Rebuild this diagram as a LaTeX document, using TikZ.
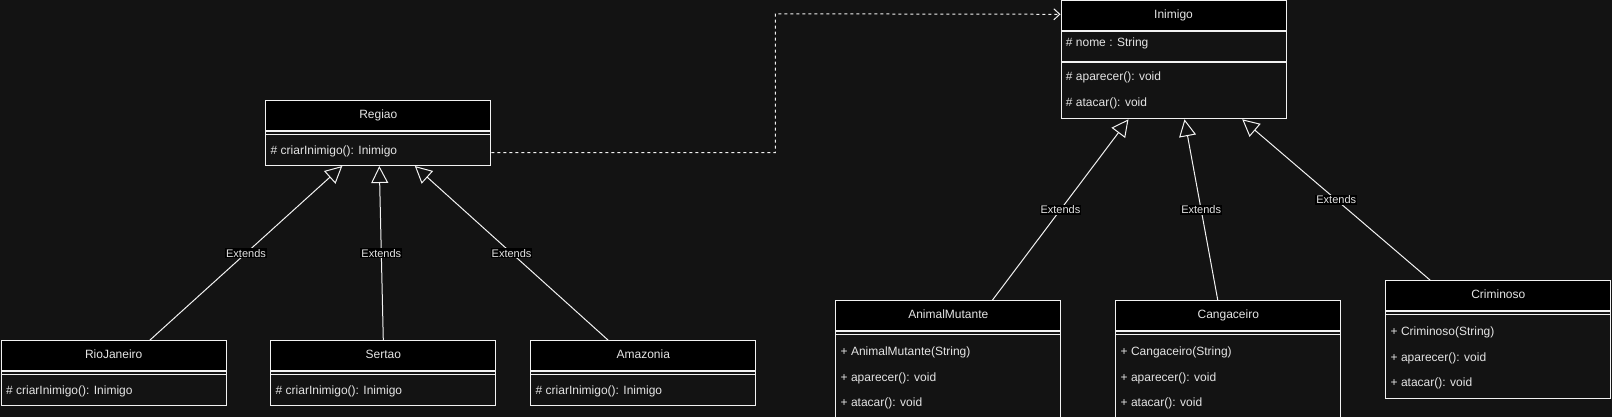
\documentclass[tikz,border=0pt]{standalone}
\usepackage{fontspec}
\setmainfont{Liberation Sans}
\usepackage{xcolor}
\usepackage{tikz}
\usetikzlibrary{arrows.meta,positioning}

\definecolor{bgc}{HTML}{131313}
\definecolor{edgec}{HTML}{F2F2F2}
\definecolor{txtc}{HTML}{E4E4E4}

\begin{document}
\begin{tikzpicture}[
  x=1pt, y=-1pt,
  font=\fontsize{12}{14}\selectfont,
  classhead/.style={draw=edgec, fill=black, text=txtc, anchor=north west,
                    minimum width=225pt, minimum height=30pt, inner sep=0pt, line width=1pt,
                    text height=9pt, text depth=3pt},
  classbody/.style={draw=edgec, fill=bgc, anchor=north west,
                    minimum width=225pt, inner sep=0pt, line width=1pt},
  member/.style={anchor=base west, text=txtc, inner sep=0pt},
  sep/.style={draw=edgec, line width=1pt},
  lbl/.style={fill=black, text=txtc, inner sep=1pt, font=\fontsize{11}{13}\selectfont},
  ext/.style={draw=edgec, line width=1pt, -{Triangle[open, length=17pt, width=17pt]}},
  dep/.style={draw=edgec, line width=1pt, dash pattern=on 3pt off 3pt,
              -{Straight Barb[length=6pt, width=11pt]}}
]
    % page
    \fill[bgc] (0,0) rectangle (1612,417);
    \useasboundingbox (0,0) rectangle (1612,417);

    % Left group: Regiao and its subclasses
    \node[classhead] (regiao) at (265.3,100.3) {Regiao};
    \node[classbody, minimum height=33.7pt] (regiao-body) at (regiao.south west) {};
    \draw[sep] ([yshift=-3.4pt]regiao-body.north west) -- ([yshift=-3.4pt]regiao-body.north east);
    \node[member] (regiao-m1) at (270.5,154.7) {\# criarInimigo(): Inimigo};

    \node[classhead] (rio) at (0.7,340.3) {RioJaneiro};
    \node[classbody, minimum height=33.7pt] (rio-body) at (rio.south west) {};
    \draw[sep] ([yshift=-3.4pt]rio-body.north west) -- ([yshift=-3.4pt]rio-body.north east);
    \node[member] (rio-m1) at (5.9,394.7) {\# criarInimigo(): Inimigo};

    \node[classhead] (sertao) at (270.3,340.3) {Sertao};
    \node[classbody, minimum height=33.7pt] (sertao-body) at (sertao.south west) {};
    \draw[sep] ([yshift=-3.4pt]sertao-body.north west) -- ([yshift=-3.4pt]sertao-body.north east);
    \node[member] (sertao-m1) at (275.5,394.7) {\# criarInimigo(): Inimigo};

    \node[classhead] (amaz) at (530.3,340.3) {Amazonia};
    \node[classbody, minimum height=33.7pt] (amaz-body) at (amaz.south west) {};
    \draw[sep] ([yshift=-3.4pt]amaz-body.north west) -- ([yshift=-3.4pt]amaz-body.north east);
    \node[member] (amaz-m1) at (535.5,394.7) {\# criarInimigo(): Inimigo};

    % Right group: Inimigo and its subclasses
    \node[classhead] (inimigo) at (1060.5,0.5) {Inimigo};
    \node[classbody, minimum height=29.8pt] (inimigo-attr) at (inimigo.south west) {};
    \node[classbody, minimum height=56pt] (inimigo-body) at (inimigo-attr.south west) {};
    \node[member] (inimigo-a1) at (1065.7,47) {\# nome : String};
    \node[member] (inimigo-m1) at (1065.7,81) {\# aparecer(): void};
    \node[member] (inimigo-m2) at (1065.7,106.3) {\# atacar(): void};

    \node[classhead] (animal) at (835.3,300.3) {AnimalMutante};
    \node[classbody, minimum height=86.2pt] (animal-body) at (animal.south west) {};
    \draw[sep] ([yshift=-3.4pt]animal-body.north west) -- ([yshift=-3.4pt]animal-body.north east);
    \node[member] (animal-m1) at (840.5,355.3) {+ AnimalMutante(String)};
    \node[member] (animal-m2) at (840.5,381) {+ aparecer(): void};
    \node[member] (animal-m3) at (840.5,406.3) {+ atacar(): void};

    \node[classhead] (cang) at (1115.3,300.3) {Cangaceiro};
    \node[classbody, minimum height=86.2pt] (cang-body) at (cang.south west) {};
    \draw[sep] ([yshift=-3.4pt]cang-body.north west) -- ([yshift=-3.4pt]cang-body.north east);
    \node[member] (cang-m1) at (1120.5,355.3) {+ Cangaceiro(String)};
    \node[member] (cang-m2) at (1120.5,381) {+ aparecer(): void};
    \node[member] (cang-m3) at (1120.5,406.3) {+ atacar(): void};

    \node[classhead] (crim) at (1385.3,280.3) {Criminoso};
    \node[classbody, minimum height=86.4pt] (crim-body) at (crim.south west) {};
    \draw[sep] ([yshift=-3.4pt]crim-body.north west) -- ([yshift=-3.4pt]crim-body.north east);
    \node[member] (crim-m1) at (1390.5,335.3) {+ Criminoso(String)};
    \node[member] (crim-m2) at (1390.5,361) {+ aparecer(): void};
    \node[member] (crim-m3) at (1390.5,386.3) {+ atacar(): void};

    % Inheritance
    \draw[ext] ([xshift=36pt]rio.north) -- node[lbl]{Extends} ([xshift=-36pt]regiao-body.south);
    \draw[ext] (sertao.north) -- node[lbl]{Extends} ([xshift=1pt]regiao-body.south);
    \draw[ext] ([xshift=-35pt]amaz.north) -- node[lbl]{Extends} ([xshift=36.5pt]regiao-body.south);

    \draw[ext] ([xshift=44pt]animal.north) -- node[lbl]{Extends} ([xshift=-45pt]inimigo-body.south);
    \draw[ext] ([xshift=-10.5pt]cang.north) -- node[lbl]{Extends} ([xshift=11pt]inimigo-body.south);
    \draw[ext] ([xshift=-68pt]crim.north) -- node[lbl]{Extends} ([xshift=68.7pt]inimigo-body.south);

    % Regiao creates Inimigo
    \coordinate (bend) at (775.3,13.8);
    \draw[dep] ([yshift=-4pt]regiao-body.east) -| (bend) -- ([yshift=1.7pt]inimigo.west);
\end{tikzpicture}
\end{document}
